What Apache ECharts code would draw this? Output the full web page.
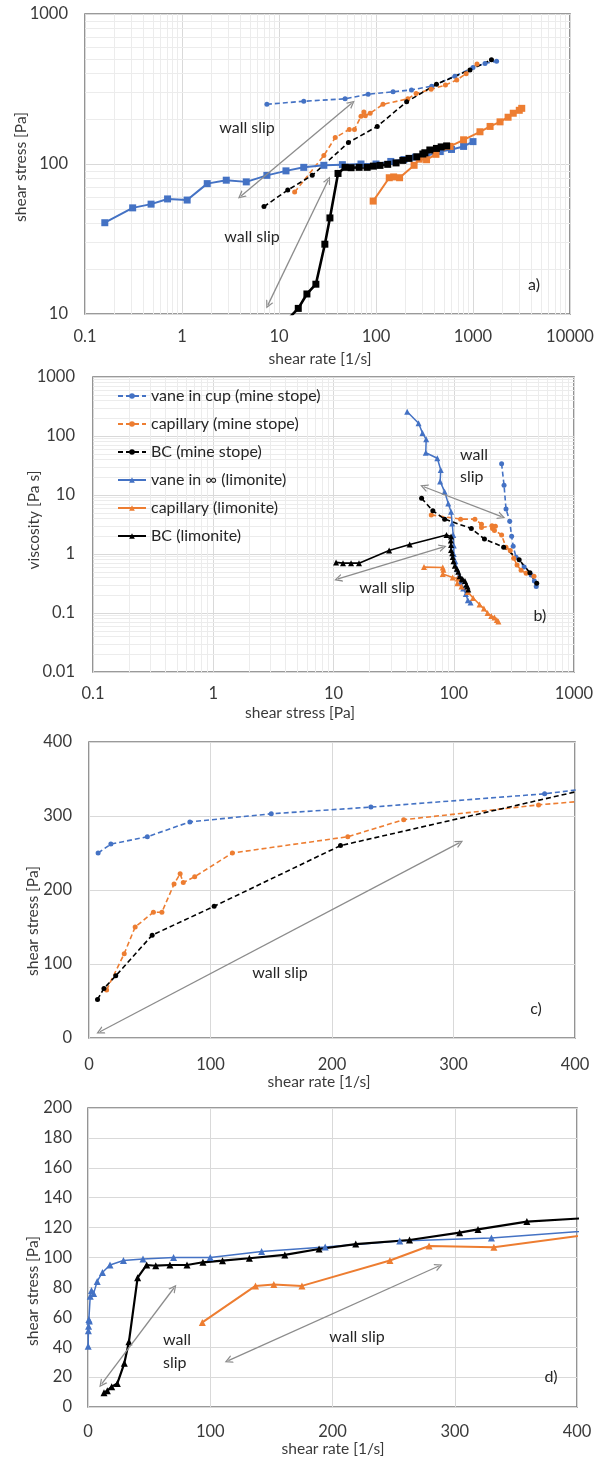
<!DOCTYPE html>
<html>
<head>
<meta charset="utf-8">
<script src="https://cdn.jsdelivr.net/npm/echarts@6/dist/echarts.min.js"></script>
<style>
  html, body { margin: 0; padding: 0; background: #ffffff; }
  #chart { width: 597px; height: 1462px; }
</style>
</head>
<body>
<div id="chart"></div>
<script>
// ---------- Flow curves: [shear rate (1/s), shear stress (Pa)] ----------
const vaneCupMine = [[7.5,250],[18,262],[48,272],[83,292],[150,303],[232,312],[375,330],[650,385],[1000,440],[1330,468],[1750,485]];
const capMine = [[14.5,65],[29,114],[38,150],[53,170],[60,170],[70,208],[75,222],[77.6,210],[87,218],[118,250],[213,272],[259,295],[370,315],[520,336],[680,363],[850,400],[1100,465]];
const bcMine = [[7,52],[12.3,67],[22,84],[52,139],[103,178],[207,260],[420,340],[930,424],[1550,495]];
const vaneLim = [[0.16,40.6],[0.31,51],[0.48,54],[0.71,58.5],[1.13,57.5],[1.82,74],[2.86,78],[4.6,76],[7.5,84],[11.8,90],[18,95],[29,98],[45,99],[70,100],[100,100],[142,104],[194,107],[255,111],[330,113],[460,121],[600,125],[800,131],[1000,141]];
const capLim = [[93.5,56.6],[137,81],[152,82],[175,81],[247,98],[279,107.7],[332,106.8],[415,116],[580,131],[800,145],[1180,164],[1500,178],[1900,191],[2300,205],[2600,218],[3000,228],[3180,235]];
const bcLim = [[13.1,9.6],[15.8,10.9],[19.4,13.6],[24,15.8],[29.7,29.2],[33.5,43.7],[40.6,86.5],[48,95],[55.4,94.5],[67,95],[81,95],[94,96.8],[110,97.9],[132,99.5],[161,101.7],[189,105.7],[219,109],[263,111.7],[304,116.6],[319,118.8],[359,124],[420,127],[470,130],[535,132]];

// ---------- Viscosity curves: [shear stress (Pa), viscosity (Pa s)] ----------
const vaneCupMineVisc = [[250,34],[262,14.6],[272,5.8],[292,3.6],[303,2.0],[312,1.35],[330,0.88],[385,0.6],[440,0.44],[468,0.35],[485,0.28]];
const capMineVisc = [[65,4.6],[114,3.9],[150,3.9],[170,3.2],[170,2.8],[208,3.0],[222,2.95],[210,2.7],[218,2.5],[250,2.1],[272,1.3],[295,1.15],[315,0.85],[336,0.65],[363,0.53],[400,0.47],[465,0.42]];
const bcMineVisc = [[54,8.8],[67,5.4],[84,3.9],[140,2.7],[180,1.8],[260,1.3],[350,0.8],[430,0.48],[490,0.32]];
const vaneLimVisc = [[41,258],[51,164],[55,112],[59,88],[58.5,52],[73,42],[78,26.5],[77,17],[84,11.4],[90,7.2],[95,5.2],[97,3.3],[99,2.1],[100,1.4],[100,1.0],[103,0.75],[107,0.55],[111,0.44],[114,0.34],[120,0.26],[126,0.21],[131,0.165],[138,0.15]];
const capLimVisc = [[56.6,0.6],[81,0.59],[82,0.54],[81,0.46],[98,0.4],[108,0.385],[107,0.32],[116,0.28],[131,0.226],[145,0.18],[164,0.139],[178,0.119],[191,0.1],[205,0.089],[218,0.084],[228,0.076],[235,0.072]];
const bcLimVisc = [[10.5,0.72],[12,0.7],[14,0.7],[16.3,0.7],[29,1.15],[43,1.45],[87,2.1],[95,1.98],[94.5,1.7],[95,1.42],[95,1.17],[97,1.03],[98,0.89],[99.5,0.75],[102,0.63],[106,0.56],[109,0.5],[112,0.42],[117,0.38],[119,0.37],[124,0.35],[127,0.3],[130,0.28],[132,0.25]];

// ---------- Series names ----------
const names = ['vane in cup (mine stope)', 'capillary (mine stope)', 'BC (mine stope)',
               'vane in \u221e (limonite)', 'capillary (limonite)', 'BC (limonite)'];

// ---------- Axis ranges ----------
const rangeA = { x: [0.1, 10000], y: [10, 1000] };
const rangeB = { x: [0.1, 1000], y: [0.01, 1000] };
const rangeC = { x: [0, 400], y: [0, 400], xStep: 100, yStep: 100 };
const rangeD = { x: [0, 400], y: [0, 200], xStep: 100, yStep: 20 };

// ---------- "wall slip" arrows, in data coordinates ----------
const slipArrowsA = [[[4.06,61.2],[56.1,254]], [[7.7,11.5],[32.2,78.2]]];
const slipArrowsB = [[[56.4,13.8],[249.6,4.29]], [[10.9,0.377],[81.2,1.31]]];
const slipArrowsC = [[[9,8.5],[305,264]]];
const slipArrowsD = [[[11.2,15.4],[70.3,79.6]], [[114.8,31],[287,94.3]]];

const BLUE = '#4472C4', ORANGE = '#ED7D31', BLACK = '#000000';
const FONT = 'Lato, "Open Sans", sans-serif';
const TXT = '#3a3a3a';

const chart = echarts.init(document.getElementById('chart'), null, { renderer: 'canvas' });

const grids = [
  { left: 85, top: 14, width: 485, height: 300 },
  { left: 93, top: 377, width: 481, height: 295 },
  { left: 89, top: 742, width: 486, height: 296 },
  { left: 88, top: 1108, width: 489, height: 299 }
].map(g => Object.assign({
  show: true, borderColor: '#7a7a7a', borderWidth: 1.6, backgroundColor: 'transparent',
  containLabel: false, outerBoundsMode: 'none'
}, g));

const fmt = v => String(+(+v).toPrecision(6));

function axisBase(gi, type, range, margin, step) {
  const a = {
    gridIndex: gi, type: type, min: range[0], max: range[1],
    axisLine: { show: false }, axisTick: { show: false },
    axisLabel: { color: TXT, fontFamily: FONT, fontSize: 16.5, margin: margin, formatter: fmt },
    splitLine: { show: true, lineStyle: { color: '#d9d9d9', width: 1 } }
  };
  if (type === 'log') a.logBase = 10; else a.interval = step;
  return a;
}

const xAxes = [
  axisBase(0, 'log', rangeA.x, 14),
  axisBase(1, 'log', rangeB.x, 13),
  axisBase(2, 'value', rangeC.x, 18, rangeC.xStep),
  axisBase(3, 'value', rangeD.x, 16, rangeD.xStep)
];
const yAxes = [
  axisBase(0, 'log', rangeA.y, 17),
  axisBase(1, 'log', rangeB.y, 18),
  axisBase(2, 'value', rangeC.y, 17, rangeC.yStep),
  axisBase(3, 'value', rangeD.y, 16, rangeD.yStep)
];

// Style presets for the six measurement series
const dashStyle = [5, 3];
function mineSeries(idx, data, gi) {
  const color = [BLUE, ORANGE, BLACK][idx];
  return {
    name: names[idx], type: 'line', xAxisIndex: gi, yAxisIndex: gi, data: data,
    symbol: 'circle', symbolSize: 5, showAllSymbol: true,
    lineStyle: { color: color, width: 1.6, type: dashStyle },
    itemStyle: { color: color }, emphasis: { disabled: true }, z: 3
  };
}
function limSeries(idx, data, gi, symbol, size, width) {
  const color = [BLUE, ORANGE, BLACK][idx];
  return {
    name: names[idx + 3], type: 'line', xAxisIndex: gi, yAxisIndex: gi, data: data,
    symbol: symbol, symbolSize: size, showAllSymbol: true,
    lineStyle: { color: color, width: width[idx] },
    itemStyle: { color: color }, emphasis: { disabled: true }, z: 3
  };
}

// Minor gridlines for decade axes (2..9 x 10^k)
function minorLines(key, lo, hi) {
  const out = [];
  for (let k = Math.round(Math.log10(lo)); k < Math.round(Math.log10(hi)); k++) {
    for (let m = 2; m <= 9; m++) {
      const o = {}; o[key] = +(m * Math.pow(10, k)).toPrecision(6); out.push(o);
    }
  }
  return out;
}
function gridHelper(gi, range) {
  return {
    type: 'line', xAxisIndex: gi, yAxisIndex: gi, data: [], silent: true, z: 0,
    markLine: {
      silent: true, symbol: 'none', z: 0, animation: false,
      label: { show: false }, emphasis: { disabled: true },
      lineStyle: { color: '#ececec', width: 1, type: 'solid' },
      data: minorLines('xAxis', range.x[0], range.x[1]).concat(minorLines('yAxis', range.y[0], range.y[1]))
    }
  };
}

const ARROW = 'path://M5,0L10,10L8.3,10L5,3.4L1.7,10L0,10Z';
function arrowHelper(gi, arrows) {
  return {
    type: 'line', xAxisIndex: gi, yAxisIndex: gi, data: [], silent: true, z: 4,
    markLine: {
      silent: true, symbol: [ARROW, ARROW], symbolSize: [8, 8], animation: false,
      label: { show: false }, emphasis: { disabled: true },
      lineStyle: { color: '#8c8c8c', width: 1.3, type: 'solid' },
      data: arrows.map(a => [{ coord: a[0] }, { coord: a[1] }])
    }
  };
}

const series = [
  // b) viscosity vs shear stress (first, so the legend takes its symbols)
  mineSeries(0, vaneCupMineVisc, 1),
  mineSeries(1, capMineVisc, 1),
  mineSeries(2, bcMineVisc, 1),
  limSeries(0, vaneLimVisc, 1, 'triangle', 6, [1.5, 1.6, 1.6]),
  limSeries(1, capLimVisc, 1, 'triangle', 6, [1.5, 1.6, 1.6]),
  limSeries(2, bcLimVisc, 1, 'triangle', 6, [1.5, 1.6, 1.6]),
  // a) flow curves on log axes
  mineSeries(0, vaneCupMine, 0),
  mineSeries(1, capMine, 0),
  mineSeries(2, bcMine, 0),
  limSeries(0, vaneLim, 0, 'rect', 7, [2, 2, 2.6]),
  limSeries(1, capLim, 0, 'rect', 7, [2, 2, 2.6]),
  limSeries(2, bcLim, 0, 'rect', 7, [2, 2, 2.6]),
  // c) mine stope, linear axes
  mineSeries(0, vaneCupMine, 2),
  mineSeries(1, capMine, 2),
  mineSeries(2, bcMine, 2),
  // d) limonite, linear axes
  limSeries(0, vaneLim, 3, 'triangle', 7, [1.5, 2, 2.2]),
  limSeries(1, capLim, 3, 'triangle', 7, [1.5, 2, 2.2]),
  limSeries(2, bcLim, 3, 'triangle', 7, [1.5, 2, 2.2]),
  // helpers: minor gridlines and wall-slip arrows
  gridHelper(0, rangeA),
  gridHelper(1, rangeB),
  arrowHelper(0, slipArrowsA),
  arrowHelper(1, slipArrowsB),
  arrowHelper(2, slipArrowsC),
  arrowHelper(3, slipArrowsD)
];

function text(str, x, y, opts) {
  return Object.assign({
    type: 'text', x: x, y: y, silent: true, z: 10,
    style: Object.assign({
      text: str, fill: '#262626', font: '16px ' + FONT, align: 'center', verticalAlign: 'middle'
    }, (opts && opts.style) || {})
  }, opts && opts.rotation ? { rotation: opts.rotation } : {});
}
const TITLE_FONT = '15.5px ' + FONT;
const vert = { rotation: Math.PI / 2, style: { fill: TXT, font: TITLE_FONT } };
const axisTitle = { style: { fill: TXT, font: TITLE_FONT } };
const leftText = { style: { align: 'left' } };

const graphics = [
  // axis titles
  text('shear stress [Pa]', 21, 167, vert),
  text('shear rate [1/s]', 320, 359, axisTitle),
  text('viscosity [Pa s]', 34, 520, vert),
  text('shear stress [Pa]', 300, 713, axisTitle),
  text('shear stress [Pa]', 33, 921, vert),
  text('shear rate [1/s]', 319, 1082, axisTitle),
  text('shear stress [Pa]', 33, 1291, vert),
  text('shear rate [1/s]', 333, 1449, axisTitle),
  // panel a
  text('wall slip', 247, 128),
  text('wall slip', 252, 237),
  text('a)', 534, 285),
  // panel b
  text('wall', 460, 455, leftText),
  text('slip', 460, 477, leftText),
  text('wall slip', 387, 588),
  text('b)', 540, 616),
  // panel c
  text('wall slip', 280, 973),
  text('c)', 536, 1009),
  // panel d
  text('wall', 163, 1340, leftText),
  text('slip', 163, 1363, leftText),
  text('wall slip', 357, 1337),
  text('d)', 551, 1377)
];

chart.setOption({
  animation: false,
  backgroundColor: '#ffffff',
  grid: grids,
  xAxis: xAxes,
  yAxis: yAxes,
  legend: {
    data: names, orient: 'vertical', left: 112, top: 383,
    itemWidth: 28, itemHeight: 7, itemGap: 12,
    textStyle: { color: '#262626', fontFamily: FONT, fontSize: 16 },
    selectedMode: false
  },
  series: series,
  graphic: graphics
});
</script>
</body>
</html>
